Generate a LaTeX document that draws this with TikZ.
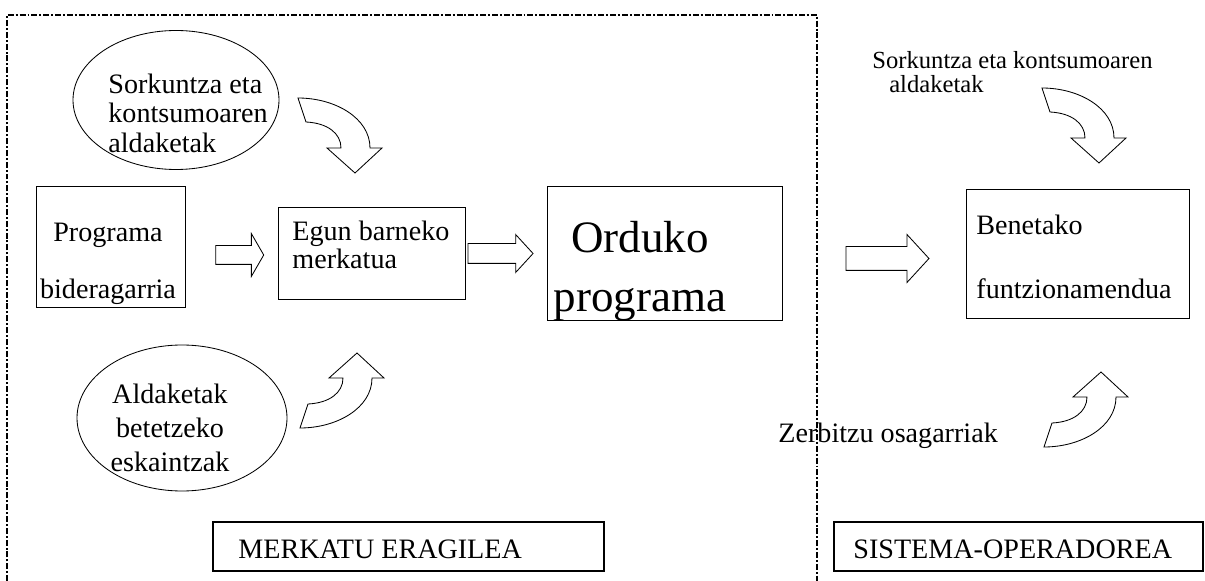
\documentclass[tikz,border=0pt]{standalone}
\usepackage{fontspec}
\setmainfont{Liberation Serif}
\usetikzlibrary{shapes.geometric,shapes.arrows}

\begin{document}
\begin{tikzpicture}[x=0.25mm, y=-0.25mm, line width=0.6pt,
	every node/.style={inner sep=0pt, font=\fontsize{20}{20}\selectfont},
	box/.style={draw, rectangle},
	oval/.style={draw, ellipse},
	tag/.style={draw, rectangle, line width=1.8pt, minimum height=12.25mm},
	flow/.style={draw, single arrow, single arrow head indent=0pt, minimum width=0pt},
	zone/.style={line width=0.9pt, dash pattern=on 4.2pt off 1.4pt on 1.4pt off 1.4pt},
	pics/curved arrow/.style={code={
		\draw[line join=miter] (0,0) -- (27,25) -- (15,25) .. controls (15,55) and (-20,75) .. (-57,75)
			-- (-49,51) .. controls (-28,50) and (-14,40) .. (-14,25) -- (-28,25) -- cycle;}}]
	\useasboundingbox (0,0) rectangle (1205,581);
	\draw[zone] (7,581) |- (817,15) -- (817,581);

	\node[oval, minimum width=51.5mm, minimum height=34.75mm] (chg) at (176,100) {};
	\node[anchor=west, align=left, font=\fontsize{20}{21}\selectfont] (chgtxt) at (108,113) {Sorkuntza eta\\kontsumoaren\\aldaketak};
	\node[oval, minimum width=52.5mm, minimum height=36.5mm] (offer) at (182,418) {};
	\node[align=center, font=\fontsize{20}{24}\selectfont] (offertxt) at (170,428) {Aldaketak\\betetzeko\\eskaintzak};

	\node[box, minimum width=37.25mm, minimum height=30.25mm] (prog) at (110.5,246.5) {};
	\node[align=center, font=\fontsize{20}{40.5}\selectfont] (progtxt) at (108,264) {Programa\\bideragarria};
	\node[box, minimum width=46.75mm, minimum height=23mm] (egun) at (371.5,253) {};
	\node[anchor=west, align=left] (eguntxt) at (292,244.5) {Egun barneko\\merkatua};
	\node[box, minimum width=58.75mm, minimum height=33.5mm] (ord) at (664.5,253) {};
	\node[align=center, font=\fontsize{32}{42}\selectfont] (ordtxt) at (640,271) {Orduko\\programa};
	\node[box, minimum width=55.75mm, minimum height=32.25mm] (ben) at (1077.5,253.5) {};
	\node[anchor=west, align=left, font=\fontsize{20}{46}\selectfont] (bentxt) at (976,257) {Benetako\\funtzionamendua};

	\node[flow, minimum height=12mm, inner ysep=2.25mm, single arrow head extend=3mm, single arrow tip angle=120] (toegun) at (237,255) {};
	\node[flow, minimum height=16.25mm, inner ysep=2.375mm, single arrow head extend=2.25mm, single arrow tip angle=95] (toord) at (496,253.5) {};
	\node[flow, minimum height=20.75mm, inner ysep=2.875mm, single arrow head extend=3mm, single arrow tip angle=95] (toben) at (882,258.5) {};

	\pic[yscale=-1] at (355,173) {curved arrow};
	\pic at (357,353) {curved arrow};
	\pic[yscale=-1] at (1099,163) {curved arrow};
	\pic at (1101,372) {curved arrow};

	\node[anchor=west, align=left, font=\fontsize{17.5}{17}\selectfont] (sorttxt) at (872,72) {Sorkuntza eta kontsumoaren\\\hspace*{12pt}aldaketak};
	\node[anchor=base west] (servtxt) at (778,442) {Zerbitzu osagarriak};

	\node[tag, minimum width=97.75mm] (merk) at (408.5,546.5) {};
	\node[anchor=base west] (merktxt) at (238,558) {MERKATU ERAGILEA};
	\node[tag, minimum width=92.25mm] (sist) at (1018.5,546.5) {};
	\node[anchor=base west] (sisttxt) at (853,558) {SISTEMA-OPERADOREA};
\end{tikzpicture}
\end{document}
